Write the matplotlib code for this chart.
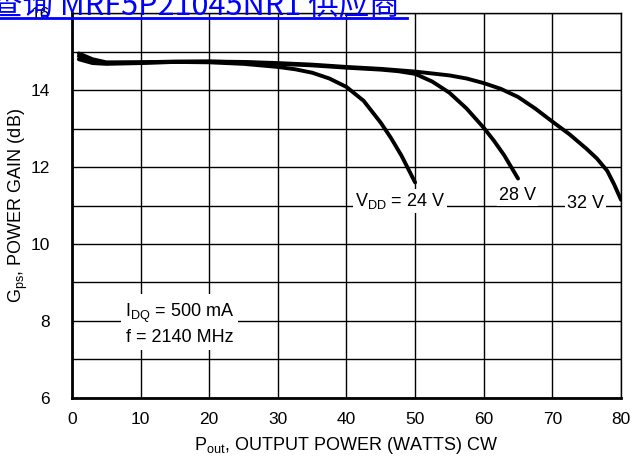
import matplotlib
matplotlib.use('Agg')
import matplotlib.pyplot as plt
from matplotlib.lines import Line2D
from matplotlib import rcParams

rcParams['font.family'] = ['Liberation Sans Narrow', 'Liberation Sans', 'DejaVu Sans']
rcParams['xtick.labelsize'] = 12.5
rcParams['ytick.labelsize'] = 12.5

# gain vs output power, one curve per drain voltage
pout_24 = [1, 3, 5, 10, 15, 20, 25, 30, 32.5, 35, 37.5, 40, 42.5, 45, 46.5, 48, 49, 50]
gain_24 = [14.95, 14.8, 14.72, 14.72, 14.73, 14.72, 14.68, 14.6, 14.54, 14.45, 14.3, 14.08, 13.72, 13.15, 12.75, 12.3, 11.95, 11.6]

pout_28 = [1, 3, 5, 10, 15, 20, 25, 30, 35, 40, 45, 47.5, 50, 52.5, 55, 57.5, 60, 61.5, 63, 64, 65]
gain_28 = [14.88, 14.75, 14.7, 14.72, 14.74, 14.74, 14.72, 14.68, 14.64, 14.58, 14.53, 14.49, 14.42, 14.22, 13.93, 13.52, 13.02, 12.68, 12.3, 12.0, 11.7]

pout_32 = [1, 3, 5, 10, 15, 20, 25, 30, 35, 40, 45, 50, 55, 57.5, 60, 62.5, 65, 67.5, 70, 72.5, 75, 76.5, 78, 79, 80]
gain_32 = [14.8, 14.7, 14.68, 14.7, 14.73, 14.74, 14.73, 14.7, 14.66, 14.6, 14.55, 14.48, 14.38, 14.3, 14.18, 14.03, 13.82, 13.52, 13.18, 12.85, 12.47, 12.22, 11.9, 11.55, 11.15]

xticks = [0, 10, 20, 30, 40, 50, 60, 70, 80]
yticks = [6, 8, 10, 12, 14, 16]

fig = plt.figure(figsize=(6.33, 4.66), dpi=100)
ax = fig.add_axes([0.1137, 0.146, 0.8673, 0.826])

ax.set_xlim(0, 80)
ax.set_ylim(6, 16)
ax.set_xticks(xticks)
ax.set_yticks(yticks)
ax.set_yticks([7, 9, 11, 13, 15], minor=True)
ax.grid(which='both', color='black', linewidth=1.0)
ax.tick_params(which='both', length=0)
ax.tick_params(axis='y', pad=16)
ax.tick_params(axis='x', pad=10)

for s in ['top', 'right']:
    ax.spines[s].set_linewidth(1.0)
for s in ['left', 'bottom']:
    ax.spines[s].set_linewidth(2.0)

for xs, ys in [(pout_24, gain_24), (pout_28, gain_28), (pout_32, gain_32)]:
    ax.plot(xs, ys, color='black', linewidth=2.8, solid_capstyle='round',
            solid_joinstyle='round', zorder=3)

box = dict(facecolor='white', edgecolor='none', pad=1.5)
ax.text(47.8, 11.12, r'V$_{\mathregular{DD}}$ = 24 V', fontsize=13, ha='center', va='center', bbox=box, zorder=4)
ax.text(64.9, 11.27, '28 V', fontsize=13, ha='center', va='center', bbox=box, zorder=4)
ax.text(74.8, 11.05, '32 V', fontsize=13, ha='center', va='center', bbox=box, zorder=4)
ax.text(15.7, 7.92, 'I$_{\\mathregular{DQ}}$ = 500 mA\nf = 2140 MHz', fontsize=13, ha='center', va='center',
        linespacing=1.3, bbox=dict(facecolor='white', edgecolor='none', pad=3), zorder=4)

ax.set_xlabel(r'P$_{\mathregular{out}}$, OUTPUT POWER (WATTS) CW', fontsize=13, labelpad=6)
ax.set_ylabel(r'G$_{\mathregular{ps}}$, POWER GAIN (dB)', fontsize=13, labelpad=0)

# blue link banner across the top edge
fig.text(-0.012, 0.97, '查询 MRF5P21045NR1 供应商', fontsize=22, color='#0000ff',
         family=['Noto Sans CJK SC', 'DejaVu Sans'], ha='left', va='baseline', zorder=10)
fig.add_artist(Line2D([0, 0.643], [0.961, 0.961], color='#0000ff', linewidth=2, zorder=10))

fig.savefig('out.png', dpi=100)
